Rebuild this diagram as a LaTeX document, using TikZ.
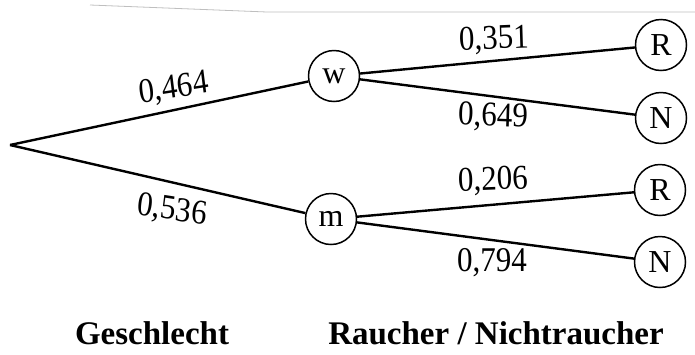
\documentclass[tikz,border=0pt]{standalone}
\usepackage{fontspec}
\setmainfont{Liberation Serif}
\begin{document}
\begin{tikzpicture}[x=1pt,y=-1pt,
  st/.style={circle,draw,line width=1.5pt,minimum size=51pt,inner sep=0pt,font=\fontsize{32}{32}\selectfont},
  br/.style={line width=2.4pt},
  lab/.style={font=\fontsize{31}{31}\selectfont,inner sep=0pt,yscale=1.12},
  ttl/.style={font=\fontsize{33}{33}\selectfont\bfseries,inner sep=0pt}]
\useasboundingbox (0,0) rectangle (695,354);
\draw[black!25,line width=0.8pt] (90,5) -- (267,12) -- (695,12);
\coordinate (root) at (10,145);
\node[st] (w) at (334,76) {w};
\node[st] (m) at (331,219) {m};
\node[st] (R1) at (661,45) {R};
\node[st] (N1) at (661,118) {N};
\node[st] (R2) at (660,190) {R};
\node[st] (N2) at (660,262) {N};
\draw[br] (root) -- (w);
\draw[br] (root) -- (m);
\draw[br] (w) -- (R1);
\draw[br] (w) -- (N1);
\draw[br] (m) -- (R2);
\draw[br] (m) -- (N2);
\node[lab,rotate=8] (l1) at (174,89) {0,464};
\node[lab,rotate=-8] (l2) at (172,211) {0,536};
\node[lab,rotate=2] (l3) at (494,40) {0,351};
\node[lab,rotate=-2] (l4) at (493,117) {0,649};
\node[lab,rotate=2] (l5) at (493,181) {0,206};
\node[lab] (l6) at (492,263) {0,794};
\node[ttl] (t1) at (152,333) {Geschlecht};
\node[ttl] (t2) at (496,333) {Raucher / Nichtraucher};
\end{tikzpicture}
\end{document}
